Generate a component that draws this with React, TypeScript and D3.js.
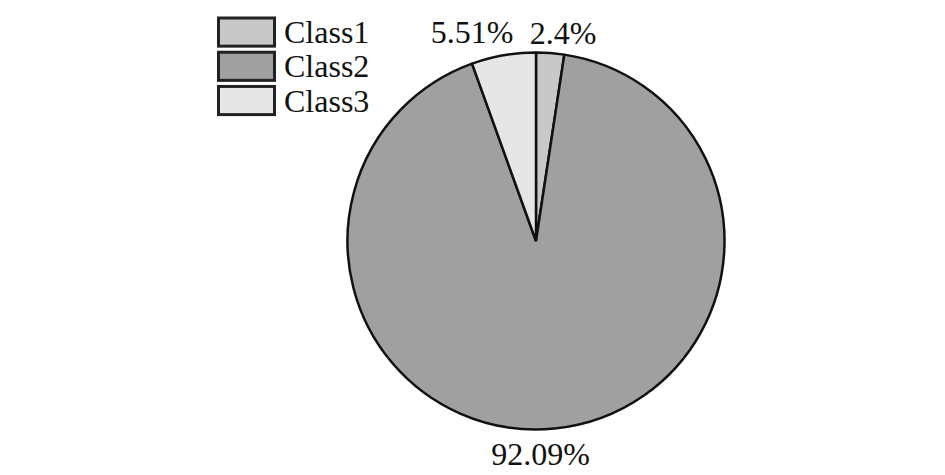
import React from "react";
import * as d3 from "d3";

const categories = ["Class1", "Class2", "Class3"];
const values = [2.4, 92.09, 5.51];
const labels = ["2.4%", "92.09%", "5.51%"];
const colors = ["#c8c8c8", "#a0a0a0", "#e6e6e6"];
// legend order
const legendOrder = ["Class1", "Class2", "Class3"];
// label nudges (px) relative to arc-centroid anchor
const labelNudge: [number, number][] = [
  [11, 3],
  [-16, 2.5],
  [-27.5, 0],
];

const W = 945;
const H = 475;
const cx = 536;
const cy = 241;
const R = 188.5;
const FONT = "'Liberation Serif', 'Times New Roman', serif";

export default function App() {
  const pie = d3
    .pie<number>()
    .sort(null)
    .value((d) => d)
    .startAngle(0)
    .endAngle(2 * Math.PI);
  const arcs = pie(values);
  const arc = d3.arc<d3.PieArcDatum<number>>().innerRadius(0).outerRadius(R);
  const labelArc = d3
    .arc<d3.PieArcDatum<number>>()
    .innerRadius(212)
    .outerRadius(212);

  const legendY = d3
    .scaleBand<string>()
    .domain(legendOrder)
    .range([16.5, 16.5 + 33.2 * 3])
    .paddingInner(0.09)
    .paddingOuter(0);

  return (
    <svg
      width={W}
      height={H}
      style={{ position: "absolute", left: 0, top: 0, background: "#fff" }}
    >
      <g transform={`translate(${cx},${cy})`}>
        {arcs.map((a, i) => (
          <path
            key={i}
            d={arc(a) || ""}
            fill={colors[i]}
            stroke="#111"
            strokeWidth={2.5}
            strokeLinejoin="bevel"
          />
        ))}
        {arcs.map((a, i) => {
          const [x, y] = labelArc.centroid(a);
          return (
            <text
              key={"l" + i}
              x={x + labelNudge[i][0]}
              y={y + labelNudge[i][1] + 11}
              textAnchor="middle"
              fontFamily={FONT}
              fontSize={32}
              fill="#111"
            >
              {labels[i]}
            </text>
          );
        })}
      </g>
      <g>
        {legendOrder.map((c) => {
          const i = categories.indexOf(c);
          const y0 = legendY(c)!;
          const h = legendY.bandwidth();
          return (
            <g key={c}>
              <rect
                x={218.5}
                y={y0 + 1.5}
                width={56}
                height={h - 3}
                fill={colors[i]}
                stroke="#222"
                strokeWidth={3}
              />
              <text
                x={284}
                y={y0 + h / 2 + 11}
                fontFamily={FONT}
                fontSize={32}
                fill="#111"
              >
                {c}
              </text>
            </g>
          );
        })}
      </g>
    </svg>
  );
}
